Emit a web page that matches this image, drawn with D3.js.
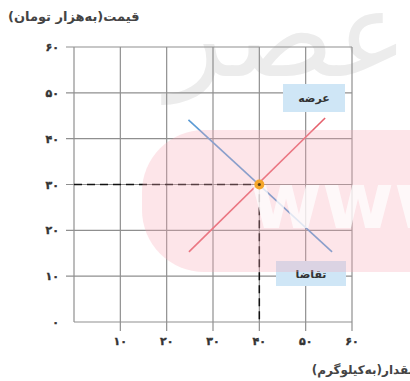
<!DOCTYPE html>
<meta charset="utf-8">
<script src="https://d3js.org/d3.v7.min.js"></script>
<style>
body { margin: 0; background: #fff; }
text { font-family: "DejaVu Sans", sans-serif; }
</style>
<body>
<script>
// data
var xTicks = [10, 20, 30, 40, 50, 60];
var yTicks = [0, 10, 20, 30, 40, 50, 60];
var fa = ["۰","۱","۲","۳","۴","۵","۶","۷","۸","۹"];
var demand = [[24.7, 44.1], [55.7, 15.3]];
var supply = [[24.8, 15.3], [54.2, 44.5]];
var equilibrium = [40, 30];
var supplyLabel = "عرضه";
var demandLabel = "تقاضا";
var yTitle = "قیمت(به‌هزار تومان)";
var xTitle = "مقدار(به‌کیلوگرم)";

function toFa(n) {
    return String(n).replace(/\d/g, function(c) { return fa[+c]; });
}

var width = 410, height = 381;

var svg = d3.select("body")
    .append("svg")
    .attr("width", width)
    .attr("height", height);

var x = d3.scaleLinear().domain([0, 60]).range([74, 352]);
var y = d3.scaleLinear().domain([0, 60]).range([322, 47]);

// background watermark text
svg.append("text")
    .attr("x", 408)
    .attr("y", 76)
    .attr("text-anchor", "end")
    .attr("font-size", 120)
    .attr("fill", "#ececec")
    .text("عصر");

// grid
var grid = svg.append("g").attr("stroke", "#8f8f8f").attr("stroke-width", 1.2);
grid.selectAll(".vx")
    .data([0].concat(xTicks))
    .enter().append("line")
    .attr("x1", function(d) { return x(d); })
    .attr("x2", function(d) { return x(d); })
    .attr("y1", y(60))
    .attr("y2", function(d) { return d === 0 ? y(0) : y(0) + 9; });
grid.selectAll(".hy")
    .data(yTicks)
    .enter().append("line")
    .attr("y1", function(d) { return y(d); })
    .attr("y2", function(d) { return y(d); })
    .attr("x1", function(d) { return d === 0 ? x(0) : x(0) - 8; })
    .attr("x2", x(60));

// tick labels
svg.selectAll(".yl")
    .data(yTicks)
    .enter().append("text")
    .attr("x", 59)
    .attr("y", function(d) { return y(d) + 4; })
    .attr("text-anchor", "end")
    .attr("font-size", 11)
    .attr("font-weight", "bold")
    .attr("fill", "#333")
    .attr("stroke", "#333")
    .attr("stroke-width", 0.4)
    .text(function(d) { return toFa(d); });

svg.selectAll(".xl")
    .data(xTicks)
    .enter().append("text")
    .attr("x", function(d) { return x(d); })
    .attr("y", 345)
    .attr("text-anchor", "middle")
    .attr("font-size", 11)
    .attr("font-weight", "bold")
    .attr("fill", "#333")
    .attr("stroke", "#333")
    .attr("stroke-width", 0.4)
    .text(function(d) { return toFa(d); });

// dashed guides
svg.append("path")
    .attr("d", "M" + x(0) + "," + y(equilibrium[1]) + "H" + x(equilibrium[0]) + "V" + y(0))
    .attr("fill", "none")
    .attr("stroke", "#111")
    .attr("stroke-width", 1.5)
    .attr("stroke-dasharray", "8,5");

var line = d3.line()
    .x(function(d) { return x(d[0]); })
    .y(function(d) { return y(d[1]); });

svg.append("path").datum(demand)
    .attr("d", line)
    .attr("stroke", "#5b9bd5")
    .attr("stroke-width", 1.6)
    .attr("fill", "none");

svg.append("path").datum(supply)
    .attr("d", line)
    .attr("stroke", "#e5606c")
    .attr("stroke-width", 1.6)
    .attr("fill", "none");

// label boxes
function box(txt, x0, y0, w, h) {
    svg.append("rect")
        .attr("x", x0).attr("y", y0)
        .attr("width", w).attr("height", h)
        .attr("fill", "#cfe6f6");
    svg.append("text")
        .attr("x", x0 + w / 2)
        .attr("y", y0 + h / 2 + 4)
        .attr("text-anchor", "middle")
        .attr("font-size", 11)
        .attr("font-weight", "bold")
        .attr("fill", "#333")
        .text(txt);
}
box(supplyLabel, 283, 84, 62, 28);
box(demandLabel, 276, 261, 70, 25);

// pink watermark overlay
svg.append("rect")
    .attr("x", 142).attr("y", 130)
    .attr("width", 340).attr("height", 142)
    .attr("rx", 62)
    .attr("fill", "#f8a9b6")
    .attr("opacity", 0.3);

svg.append("text")
    .attr("x", 250)
    .attr("y", 228)
    .attr("font-size", 78)
    .attr("font-weight", "bold")
    .attr("font-family", "Roboto, sans-serif")
    .attr("fill", "#fff")
    .attr("opacity", 0.75)
    .text("www");

// equilibrium point
svg.append("circle")
    .attr("cx", x(equilibrium[0]))
    .attr("cy", y(equilibrium[1]))
    .attr("r", 5)
    .attr("fill", "#f4a62a");
svg.append("circle")
    .attr("cx", x(equilibrium[0]))
    .attr("cy", y(equilibrium[1]))
    .attr("r", 1.6)
    .attr("fill", "#5a3d12");

// axis titles
svg.append("text")
    .attr("x", 8).attr("y", 21)
    .attr("text-anchor", "end")
    .attr("direction", "rtl")
    .attr("font-size", 13)
    .attr("font-weight", "bold")
    .attr("fill", "#444")
    .text(yTitle);

svg.append("text")
    .attr("x", 416).attr("y", 374)
    .attr("text-anchor", "start")
    .attr("direction", "rtl")
    .attr("font-size", 12)
    .attr("font-weight", "bold")
    .attr("fill", "#444")
    .text(xTitle);
</script>
</body>
</html>
